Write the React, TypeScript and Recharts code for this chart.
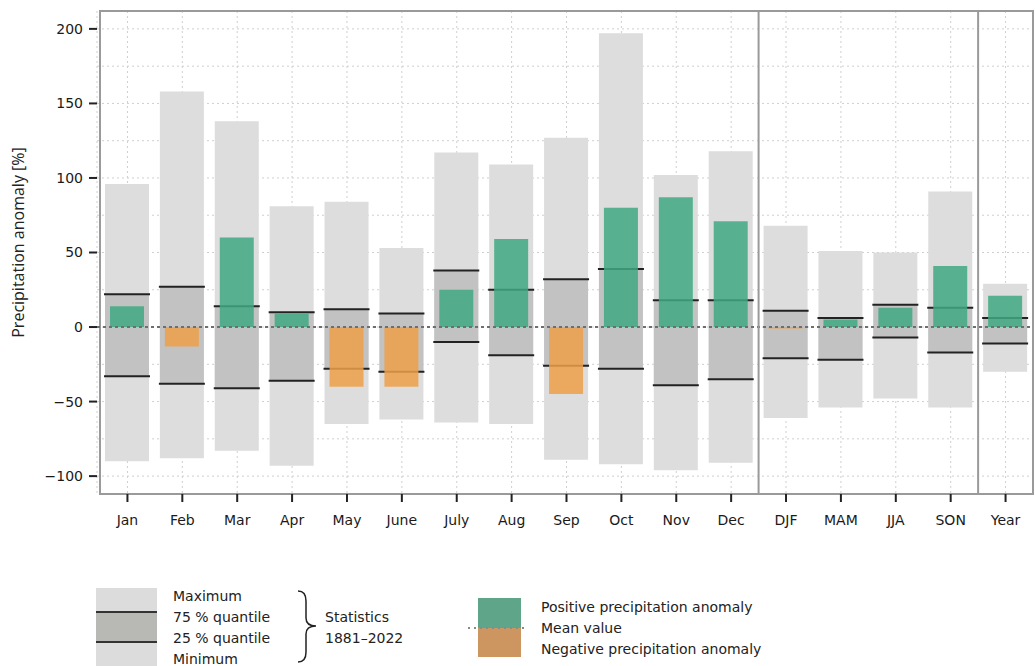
import React from 'react';
import {
  Bar,
  CartesianGrid,
  Cell,
  ComposedChart,
  ReferenceArea,
  ReferenceLine,
  XAxis,
  YAxis,
} from 'recharts';

const categories = ['Jan', 'Feb', 'Mar', 'Apr', 'May', 'June', 'July', 'Aug', 'Sep', 'Oct', 'Nov', 'Dec', 'DJF', 'MAM', 'JJA', 'SON', 'Year'];
const maxima = [96, 158, 138, 81, 84, 53, 117, 109, 127, 197, 102, 118, 68, 51, 50, 91, 29];
const minima = [-90, -88, -83, -93, -65, -62, -64, -65, -89, -92, -96, -91, -61, -54, -48, -54, -30];
const q75 = [22, 27, 14, 10, 12, 9, 38, 25, 32, 39, 18, 18, 11, 6, 15, 13, 6];
const q25 = [-33, -38, -41, -36, -28, -30, -10, -19, -26, -28, -39, -35, -21, -22, -7, -17, -11];
const anomaly = [14, -13, 60, 9, -40, -40, 25, 59, -45, 80, 87, 71, -1, 5, 13, 41, 21];

const yTicks = [-100, -50, 0, 50, 100, 150, 200];
const gridValues = [-100, -75, -50, -25, 0, 25, 50, 75, 100, 125, 150, 175, 200];

const data = categories.map((name, i) => ({
  name,
  range: [minima[i], maxima[i]],
  iqr: [q25[i], q75[i]],
  anom: anomaly[i],
}));

const FONT = '"DejaVu Sans", sans-serif';
const GREEN = '#3fa983';
const ORANGE = '#eca049';

// boite interquartile + les deux traits noirs (25 % / 75 %)
function IqrShape(props: any) {
  const { x, y, width, height } = props;
  const top = Math.min(y, y + height);
  const bottom = Math.max(y, y + height);
  return (
    <g>
      <rect x={x} y={top} width={width} height={bottom - top} fill="#c2c2c2" />
      <line x1={x - 1} x2={x + width + 1} y1={top} y2={top} stroke="#222" strokeWidth={2} />
      <line x1={x - 1} x2={x + width + 1} y1={bottom} y2={bottom} stroke="#222" strokeWidth={2} />
    </g>
  );
}

function YLabel(props: any) {
  const vb = props.viewBox || { y: 11, height: 484 };
  const cy = vb.y + vb.height / 2 - 10;
  return (
    <text
      x={18}
      y={cy}
      transform={`rotate(-90 18 ${cy})`}
      textAnchor="middle"
      dominantBaseline="central"
      fontFamily='"Open Sans", sans-serif'
      fontSize={16}
      fill="#222"
    >
      Precipitation anomaly [%]
    </text>
  );
}

function LegendBlock() {
  const t = { fontFamily: FONT, fontSize: 14, fill: '#222', dominantBaseline: 'central' as const };
  return (
    <svg width={1035} height={96} style={{ position: 'absolute', left: 0, top: 570 }}>
      <rect x={96} y={18} width={61} height={78} fill="#dcdcdc" />
      <rect x={96} y={42} width={61} height={30} fill="#b8b8b5" />
      <line x1={96} x2={157} y1={42} y2={42} stroke="#333" strokeWidth={2} />
      <line x1={96} x2={157} y1={72} y2={72} stroke="#333" strokeWidth={2} />
      <text x={173} y={26} {...t}>Maximum</text>
      <text x={173} y={47} {...t}>75 % quantile</text>
      <text x={173} y={68} {...t}>25 % quantile</text>
      <text x={173} y={89} {...t}>Minimum</text>
      <path
        d="M298,21 Q306,21 306,31 L306,48 Q306,56 316,56 Q306,56 306,64 L306,82 Q306,92 298,92"
        fill="none"
        stroke="#222"
        strokeWidth={1.5}
      />
      <text x={325} y={47} {...t}>Statistics</text>
      <text x={325} y={68} {...t}>1881–2022</text>
      <rect x={478} y={28} width={43} height={30} fill="#5fa58a" />
      <rect x={478} y={58} width={43} height={29} fill="#cd9560" />
      <line x1={468} x2={527} y1={58} y2={58} stroke="#8a8a8a" strokeWidth={2} strokeDasharray="2 4" />
      <text x={541} y={37} {...t}>Positive precipitation anomaly</text>
      <text x={541} y={58} {...t}>Mean value</text>
      <text x={541} y={79} {...t}>Negative precipitation anomaly</text>
    </svg>
  );
}

export default function App() {
  const tickStyle = { fontFamily: FONT, fontSize: 14, fill: '#1a1a1a' };
  return (
    <div style={{ position: 'absolute', left: 0, top: 0, width: 1035, height: 666, background: '#fff' }}>
      <ComposedChart
        width={1035}
        height={666}
        data={data}
        margin={{ top: 11, right: 2, bottom: 142, left: 0 }}
      >
        <CartesianGrid
          xAxisId="main"
          yAxisId="y"
          stroke="#cfcfcf"
          strokeDasharray="2 3"
          horizontalValues={gridValues}
        />
        <XAxis
          xAxisId="main"
          dataKey="name"
          padding={{ left: 3, right: 0 }}
          axisLine={false}
          tickLine={{ stroke: '#222', strokeWidth: 2 }}
          tickSize={8}
          tickMargin={13}
          tick={tickStyle}
          interval={0}
          height={30}
        />
        <XAxis xAxisId="iqr" dataKey="name" padding={{ left: 3, right: 0 }} height={0} hide />
        <XAxis xAxisId="anom" dataKey="name" padding={{ left: 3, right: 0 }} height={0} hide />
        <YAxis
          yAxisId="y"
          type="number"
          domain={[-112, 212]}
          ticks={yTicks}
          allowDataOverflow
          axisLine={false}
          tickLine={{ stroke: '#222', strokeWidth: 2 }}
          tickSize={8}
          tickMargin={6}
          tick={tickStyle}
          tickFormatter={(v: number) => (v < 0 ? `−${Math.abs(v)}` : `${v}`)}
          width={97}
          label={{ position: 'insideLeft', content: (p: any) => <YLabel {...p} /> }}
        />
        <Bar xAxisId="main" yAxisId="y" dataKey="range" barSize={44} fill="#dddddd" isAnimationActive={false} />
        <Bar xAxisId="iqr" yAxisId="y" dataKey="iqr" barSize={44} shape={IqrShape} isAnimationActive={false} />
        <Bar xAxisId="anom" yAxisId="y" dataKey="anom" barSize={34} isAnimationActive={false}>
          {data.map((d) => (
            <Cell key={d.name} fill={d.anom >= 0 ? GREEN : ORANGE} fillOpacity={0.85} />
          ))}
        </Bar>
        <ReferenceLine xAxisId="main" yAxisId="y" y={0} stroke="#6e6e6e" strokeWidth={2} strokeDasharray="3 3" />
        <ReferenceLine xAxisId="main" yAxisId="y" x="DJF" position="start" stroke="#9a9a9a" strokeWidth={2} />
        <ReferenceLine xAxisId="main" yAxisId="y" x="Year" position="start" stroke="#9a9a9a" strokeWidth={2} />
        <ReferenceArea xAxisId="main" yAxisId="y" y1={-112} y2={212} fill="none" stroke="#9a9a9a" strokeWidth={2} />
      </ComposedChart>
      <LegendBlock />
    </div>
  );
}
